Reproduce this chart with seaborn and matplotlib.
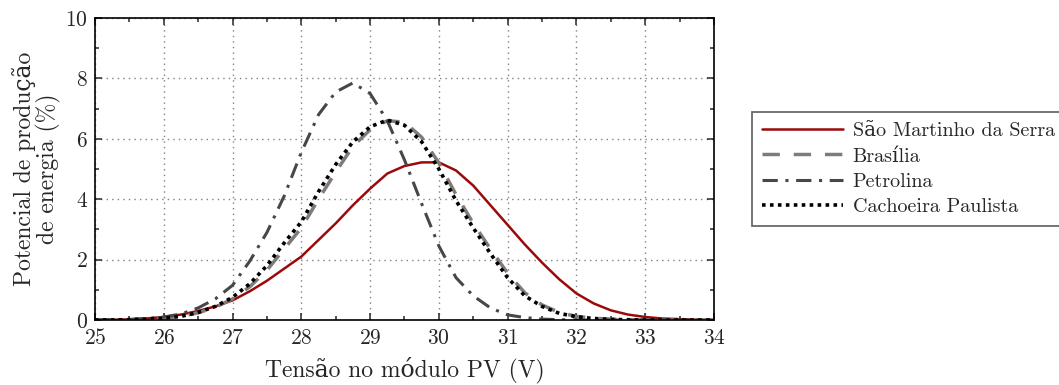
import numpy as np
import pandas as pd
import matplotlib
matplotlib.use("Agg")
import matplotlib.pyplot as plt
from matplotlib.ticker import MultipleLocator
import seaborn as sns

voltage = [25.0, 25.25, 25.5, 25.75, 26.0, 26.25, 26.5, 26.75, 27.0, 27.25, 27.5, 27.75,
           28.0, 28.25, 28.5, 28.75, 29.0, 29.25, 29.5, 29.75, 30.0, 30.25, 30.5, 30.75,
           31.0, 31.25, 31.5, 31.75, 32.0, 32.25, 32.5, 32.75, 33.0, 33.25, 33.5, 33.75, 34.0]

sao_martinho = [0.0, 0.01, 0.02, 0.05, 0.1, 0.18, 0.3, 0.45, 0.65, 0.95, 1.3, 1.7,
                2.1, 2.65, 3.2, 3.8, 4.35, 4.85, 5.1, 5.22, 5.22, 4.95, 4.45, 3.8,
                3.15, 2.5, 1.9, 1.35, 0.88, 0.55, 0.32, 0.18, 0.1, 0.05, 0.03, 0.01, 0.0]

brasilia = [0.0, 0.005, 0.01, 0.03, 0.06, 0.12, 0.24, 0.42, 0.7, 1.1, 1.65, 2.35,
            3.05, 4.0, 4.9, 5.75, 6.3, 6.6, 6.55, 6.05, 5.2, 4.15, 3.2, 2.35,
            1.55, 0.9, 0.5, 0.25, 0.12, 0.06, 0.03, 0.01, 0.0, 0.0, 0.0, 0.0, 0.0]

petrolina = [0.0, 0.01, 0.02, 0.05, 0.1, 0.2, 0.4, 0.7, 1.15, 1.95, 2.9, 4.1,
             5.55, 6.8, 7.55, 7.85, 7.5, 6.6, 5.3, 3.85, 2.45, 1.4, 0.8, 0.4,
             0.17, 0.08, 0.03, 0.01, 0.0, 0.0, 0.0, 0.0, 0.0, 0.0, 0.0, 0.0, 0.0]

cachoeira = [0.0, 0.005, 0.01, 0.03, 0.06, 0.12, 0.25, 0.45, 0.75, 1.2, 1.8, 2.55,
             3.25, 4.25, 5.15, 5.9, 6.4, 6.62, 6.45, 5.9, 5.0, 3.95, 3.05, 2.2,
             1.4, 0.8, 0.45, 0.22, 0.11, 0.05, 0.02, 0.01, 0.0, 0.0, 0.0, 0.0, 0.0]

series_names = ["São Martinho da Serra", "Brasília", "Petrolina", "Cachoeira Paulista"]
x_ticks = [25, 26, 27, 28, 29, 30, 31, 32, 33, 34]
y_ticks = [0, 2, 4, 6, 8, 10]

sns.set_style("ticks")
plt.rcParams["font.family"] = ["cmr10", "DejaVu Serif"]
plt.rcParams["axes.formatter.use_mathtext"] = True
plt.rcParams["mathtext.fontset"] = "cm"

df = pd.DataFrame({
    "V": voltage * 4,
    "P": sao_martinho + brasilia + petrolina + cachoeira,
    "Local": sum([[n] * len(voltage) for n in series_names], []),
})

fig = plt.figure(figsize=(10.59, 3.85), dpi=100)
ax = fig.add_axes([0.0897, 0.1688, 0.5845, 0.7844])

styles = {
    "São Martinho da Serra": dict(color="#9b0a0a", linestyle="-", linewidth=1.8),
    "Brasília": dict(color="#807b78", linestyle=(0, (5, 4)), linewidth=2.5),
    "Petrolina": dict(color="#474747", linestyle=(0, (5, 2.5, 1, 2.5)), linewidth=2.2),
    "Cachoeira Paulista": dict(color="#000000", linestyle=(0, (1, 1.2)), linewidth=2.6),
}

for name in series_names:
    sub = df[df["Local"] == name]
    sns.lineplot(data=sub, x="V", y="P", ax=ax, label=name, **styles[name])

ax.set_xlim(25, 34)
ax.set_ylim(0, 10)
ax.set_xticks(x_ticks)
ax.set_yticks(y_ticks)
ax.xaxis.set_minor_locator(MultipleLocator(0.5))
ax.yaxis.set_minor_locator(MultipleLocator(1))
ax.tick_params(which="both", direction="in", top=True, right=True, labelsize=15.5, width=1.1)
ax.tick_params(which="major", length=5)
ax.tick_params(which="minor", length=3)
ax.tick_params(axis="x", pad=6)
ax.tick_params(axis="y", pad=5)
ax.grid(True, which="major", linestyle=(0, (1, 3)), color="#808080", linewidth=1.0)
for s in ax.spines.values():
    s.set_linewidth(1.2)
    s.set_color("black")

ax.set_xlabel("Tensão no módulo PV (V)", fontsize=17, labelpad=6)
ax.set_ylabel("Potencial de produção\nde energia (%)", fontsize=17, labelpad=3, linespacing=1.0)

ax.get_legend().remove()
handles, labels = ax.get_legend_handles_labels()
leg = fig.legend(handles, labels, loc="upper left", bbox_to_anchor=(752 / 1059, 1 - 112 / 385),
                 frameon=True, fancybox=False, edgecolor="#333333", fontsize=14.5,
                 handlelength=4.0, handletextpad=0.5, labelspacing=0.36, borderpad=0.5,
                 borderaxespad=0)
leg.get_frame().set_linewidth(1.2)

fig.savefig("out.png", dpi=100)
